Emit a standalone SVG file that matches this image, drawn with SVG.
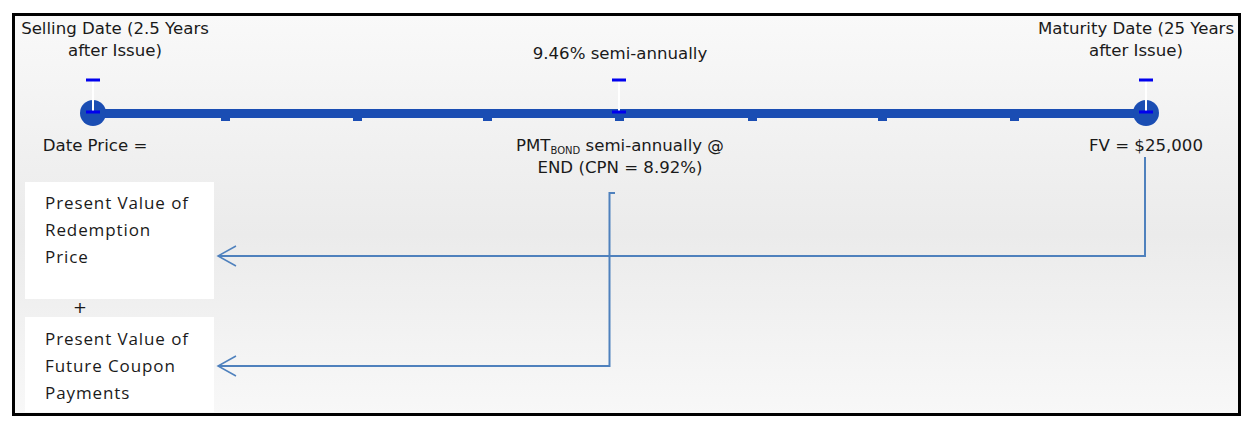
<svg xmlns="http://www.w3.org/2000/svg" width="1250" height="421" viewBox="0 0 1250 421">
<defs>
<linearGradient id="bg" x1="0" y1="0" x2="0" y2="1">
<stop offset="0" stop-color="#f9f9f9"/>
<stop offset="0.55" stop-color="#ebebeb"/>
<stop offset="1" stop-color="#f8f8f8"/>
</linearGradient>
<marker id="arr" markerWidth="22" markerHeight="24" refX="19" refY="11" orient="auto" markerUnits="userSpaceOnUse">
<path d="M1,1 L19,11 L1,21" fill="none" stroke="#4f81bd" stroke-width="1.5"/>
</marker>
<style>
.t{font-family:"DejaVu Sans",sans-serif;font-size:16.6px;fill:#1a1a1a}
.b{font-family:"Open Sans","DejaVu Sans",sans-serif;font-size:17px;letter-spacing:0.9px;fill:#1a1a1a}
.dash{fill:#0000ee}
.tick{fill:#1a4db3}
.conn{fill:none;stroke:#4f81bd;stroke-width:2}
.wl{stroke:#ffffff;stroke-width:2}
</style>
</defs>
<rect x="0" y="0" width="1250" height="421" fill="#ffffff"/>
<rect x="13.5" y="14.5" width="1226" height="400" fill="url(#bg)" stroke="#000000" stroke-width="3"/>

<g id="timeline">
<rect x="93" y="109" width="1053" height="9" fill="#1a4db3"/>
<circle cx="93" cy="113" r="13" fill="#1a4db3"/>
<circle cx="1146" cy="113" r="13" fill="#1a4db3"/>
<rect class="tick" x="221" y="117" width="9" height="4"/>
<rect class="tick" x="353" y="117" width="9" height="4"/>
<rect class="tick" x="483" y="117" width="9" height="4"/>
<rect class="tick" x="615" y="117" width="9" height="4"/>
<rect class="tick" x="748" y="117" width="9" height="4"/>
<rect class="tick" x="878" y="117" width="9" height="4"/>
<rect class="tick" x="1010" y="117" width="9" height="4"/>
</g>

<g id="selling">
<line class="wl" x1="93" y1="80" x2="93" y2="112"/>
<rect class="dash" x="86" y="78.5" width="14" height="3"/>
<rect class="dash" x="86" y="110.5" width="14" height="3"/>
<text class="t" x="115" y="34" text-anchor="middle">Selling Date (2.5 Years</text>
<text class="t" x="115" y="56" text-anchor="middle">after Issue)</text>
<text class="t" x="95" y="151" text-anchor="middle">Date Price =</text>
</g>

<g id="rate">
<line class="wl" x1="619" y1="80" x2="619" y2="112"/>
<rect class="dash" x="612" y="78.5" width="14" height="3"/>
<rect class="dash" x="612" y="110.5" width="14" height="3"/>
<text class="t" x="620" y="59" text-anchor="middle">9.46% semi-annually</text>
<text class="t" x="620" y="151" text-anchor="middle">PMT<tspan font-size="10" dy="3">BOND</tspan><tspan dy="-3"> semi-annually @</tspan></text>
<text class="t" x="620" y="173" text-anchor="middle">END (CPN = 8.92%)</text>
</g>

<g id="maturity">
<line class="wl" x1="1146" y1="80" x2="1146" y2="112"/>
<rect class="dash" x="1139" y="78.5" width="14" height="3"/>
<rect class="dash" x="1139" y="110.5" width="14" height="3"/>
<text class="t" x="1136" y="34" text-anchor="middle">Maturity Date (25 Years</text>
<text class="t" x="1136" y="56" text-anchor="middle">after Issue)</text>
<text class="t" x="1146" y="151" text-anchor="middle">FV = $25,000</text>
</g>

<g id="box-redemption">
<rect x="25" y="182" width="189" height="117" fill="#ffffff"/>
<text class="b" x="45" y="209">Present Value of</text>
<text class="b" x="45" y="236">Redemption</text>
<text class="b" x="45" y="263">Price</text>
</g>

<text class="t" x="80" y="313" text-anchor="middle" font-size="13">+</text>

<g id="box-coupon">
<rect x="25" y="317" width="189" height="95" fill="#ffffff"/>
<text class="b" x="45" y="345">Present Value of</text>
<text class="b" x="45" y="372">Future Coupon</text>
<text class="b" x="45" y="399">Payments</text>
</g>

<g id="connectors">
<path class="conn" d="M1145,157 L1145,256 L218,256" marker-end="url(#arr)"/>
<path class="conn" d="M615,193 L609.5,193 L609.5,366 L218,366" marker-end="url(#arr)"/>
</g>
</svg>
